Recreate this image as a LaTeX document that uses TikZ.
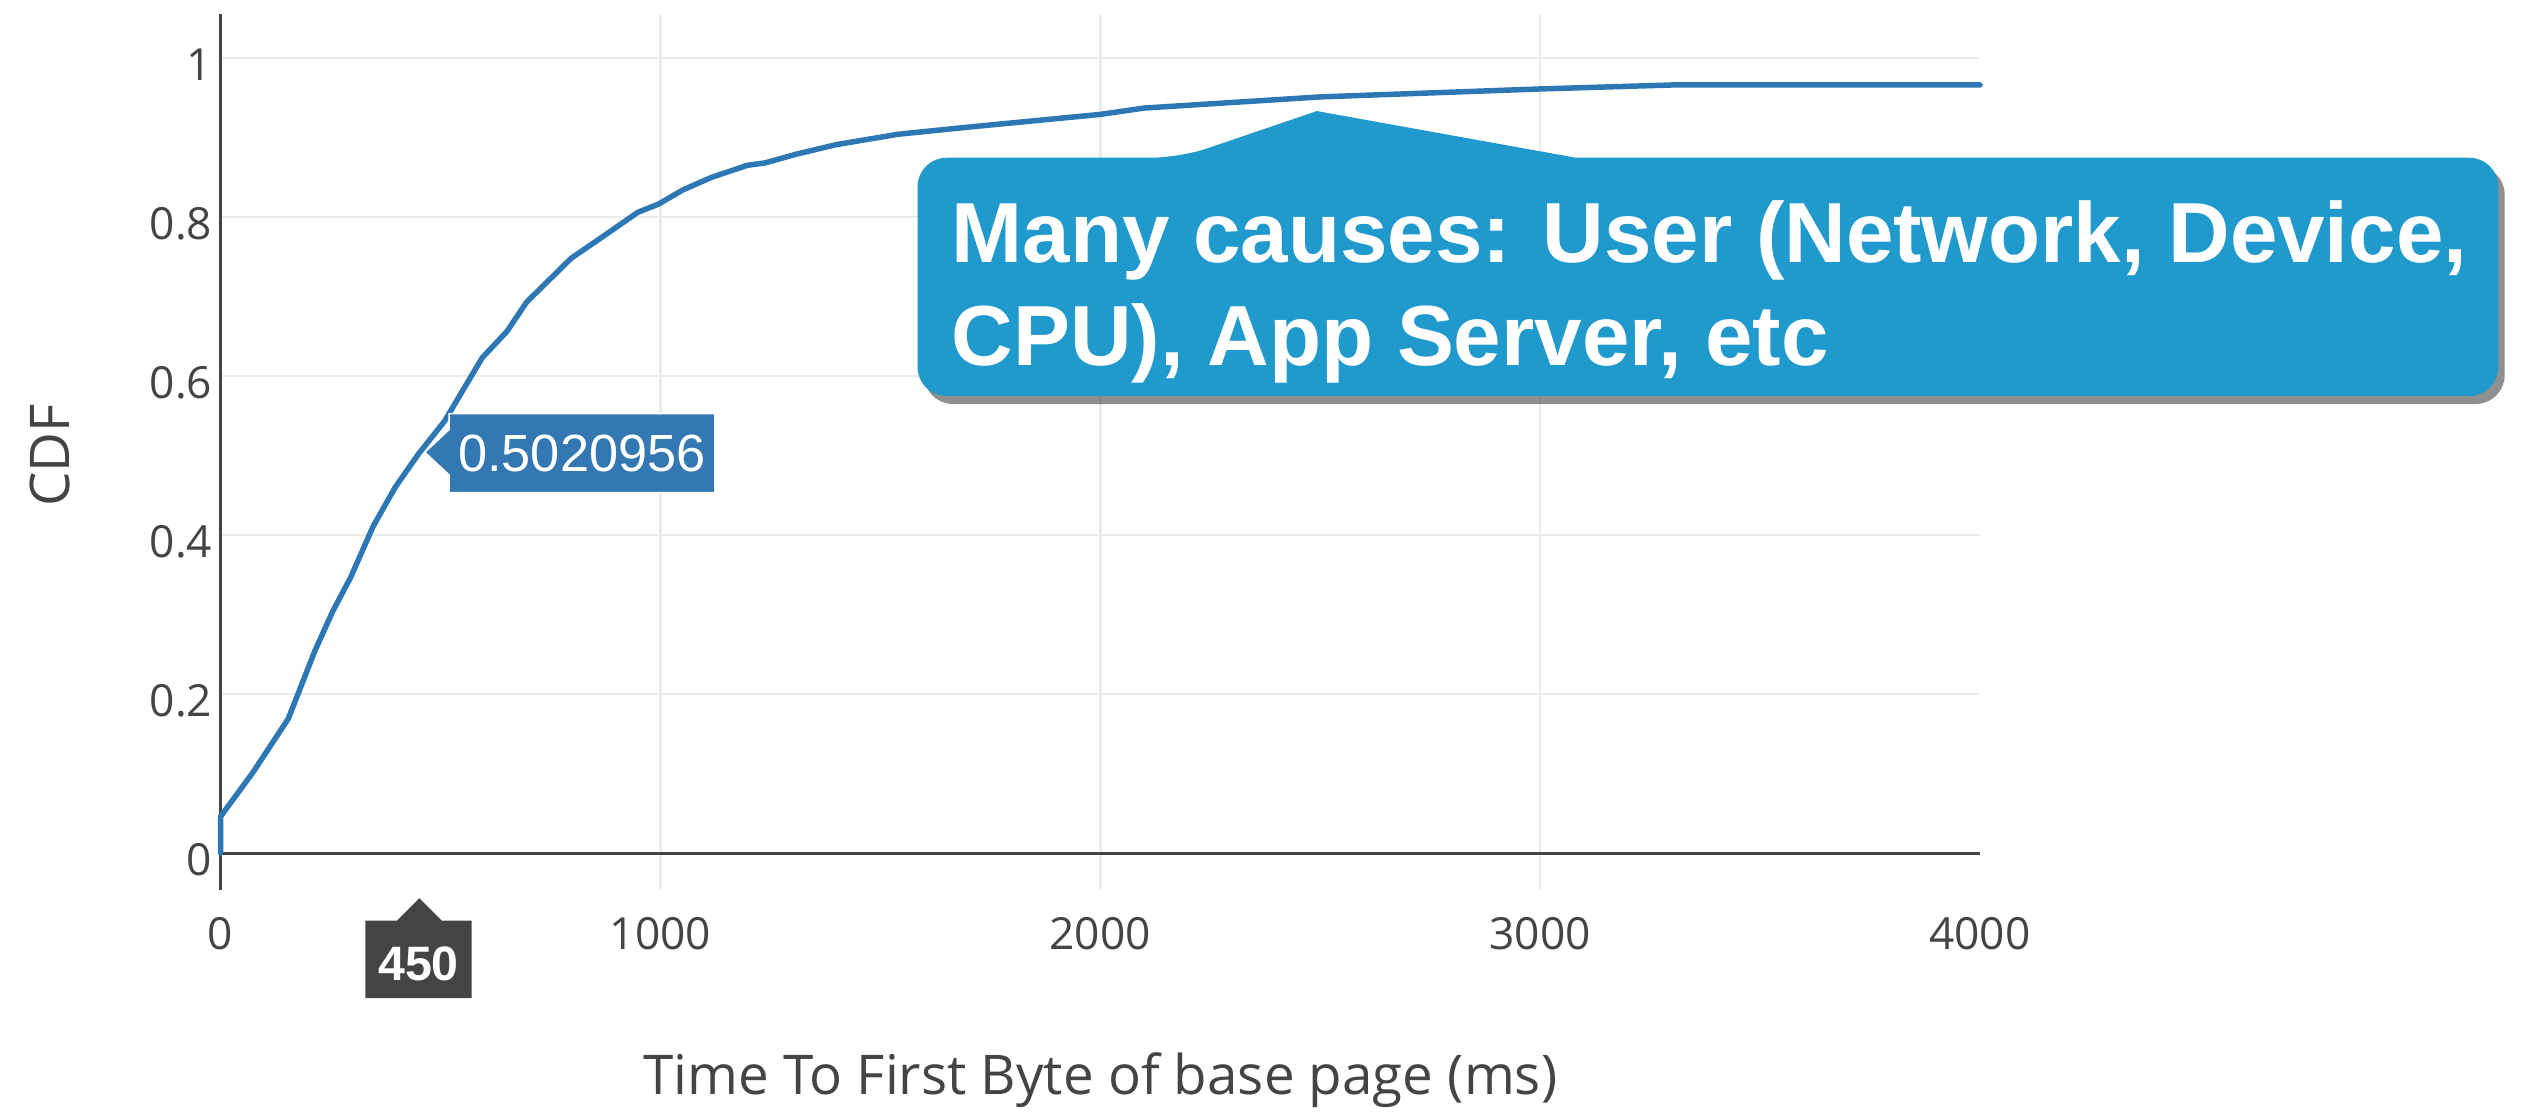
\documentclass[tikz,border=0pt]{standalone}
\usepackage{fontspec}
\setmainfont{Liberation Sans}
\newfontfamily\plotfont{Open Sans}
\newfontfamily\labelfont{Liberation Sans}
\usetikzlibrary{shadows}

\definecolor{axisgrey}{HTML}{444444}
\definecolor{gridgrey}{HTML}{EBEBEB}
\definecolor{tracecol}{RGB}{44,119,180}
\definecolor{hoverblue}{RGB}{51,120,178}
\definecolor{calloutblue}{RGB}{32,153,204}
\definecolor{spikegrey}{HTML}{444444}

\begin{document}
\begin{tikzpicture}[x=1pt,y=-1pt,
  gridline/.style={gridgrey, line width=1.6pt},
  axisline/.style={axisgrey, line width=2pt},
  ticklab/.style={font=\plotfont\fontsize{27.5}{30}\selectfont, text=axisgrey, inner sep=0pt},
  axistitle/.style={font=\plotfont\fontsize{34}{38}\selectfont, text=axisgrey, inner sep=0pt},
  trace/.style={tracecol, line width=3.4pt, line join=round, line cap=round},
  hoverbox/.style={fill=hoverblue, draw=white, line width=0.8pt, line join=miter},
  hovertext/.style={font=\labelfont\fontsize{32.5}{36}\selectfont, text=white, inner sep=0pt},
  spikebox/.style={fill=spikegrey},
  spiketext/.style={font=\labelfont\bfseries\fontsize{30}{34}\selectfont, text=white, inner sep=0pt},
  calloutbox/.style={fill=calloutblue,
    drop shadow={shadow xshift=4pt, shadow yshift=-5pt, opacity=0.55, fill=black!80}},
  callouttext/.style={font=\labelfont\bfseries\fontsize{53}{60}\selectfont, text=white, inner sep=0pt},
]

% page
\useasboundingbox (0,0) rectangle (1568,692);
\fill[white] (0,0) rectangle (1568,692);

% grid
\foreach \gy in {36,134.8,233.6,332.4,431.2}
  \draw[gridline] (137,\gy) -- (1230,\gy);
\foreach \gx in {410.25,683.5,956.75}
  \draw[gridline] (\gx,9) -- (\gx,553);

% axes
\draw[axisline] (137,530) -- (1230,530);
\draw[axisline] (137,9) -- (137,553);

% CDF trace (x in ms, y in probability)
\begin{scope}[shift={(137,530)}, x=0.27325pt, y=494pt]
  \draw[trace] (0,0) -- (0,0.046) -- (73,0.101) -- (154,0.169) -- (215,0.255)
    -- (255,0.304) -- (296,0.347) -- (347,0.411) -- (397,0.460) -- (450,0.502)
    -- (509,0.543) -- (595,0.623) -- (651,0.656) -- (696,0.693) -- (797,0.748)
    -- (863,0.773) -- (949,0.806) -- (995,0.816) -- (1051,0.834) -- (1117,0.850)
    -- (1198,0.865) -- (1238,0.868) -- (1309,0.879) -- (1400,0.891) -- (1540,0.904)
    -- (1700,0.913) -- (2000,0.929) -- (2100,0.937) -- (2500,0.951) -- (3000,0.961)
    -- (3300,0.966) -- (3700,0.966) -- (4000,0.966);
\end{scope}

% y tick labels
\node[ticklab, anchor=base east] (y100) at (132,50) {1};
\node[ticklab, anchor=base east] (y080) at (132,148.8) {0.8};
\node[ticklab, anchor=base east] (y060) at (132,247.6) {0.6};
\node[ticklab, anchor=base east] (y040) at (132,346.4) {0.4};
\node[ticklab, anchor=base east] (y020) at (132,445.2) {0.2};
\node[ticklab, anchor=base east] (y000) at (132,544) {0};

% x tick labels
\node[ticklab, anchor=base] (x0) at (137,590) {0};
\node[ticklab, anchor=base] (x1000) at (410.25,590) {1000};
\node[ticklab, anchor=base] (x2000) at (683.5,590) {2000};
\node[ticklab, anchor=base] (x3000) at (956.75,590) {3000};
\node[ticklab, anchor=base] (x4000) at (1230,590) {4000};

% axis titles
\node[axistitle, anchor=base] (xtitle) at (683.5,680) {Time To First Byte of base page (ms)};
\node[axistitle, anchor=base, rotate=90] (ytitle) at (43,283) {CDF};

% hover label on the trace
\coordinate (hoverpt) at (264,281);
\path[hoverbox] (hoverpt) -- (279,267) -- (279,257) -- (444,257) -- (444,306)
  -- (279,306) -- (279,295) -- cycle;
\node[hovertext, anchor=center] (hoverval) at (361.5,281.5) {0.5020956};

% x spike label
\coordinate (spiketip) at (260.5,558);
\path[spikebox] (227,572) -- (246.5,572) -- (spiketip) -- (274.5,572) -- (293,572)
  -- (293,620) -- (227,620) -- cycle;
\node[spiketext, anchor=base] (spikeval) at (260,609) {450};

% callout
\coordinate (callouttip) at (818,69);
\path[calloutbox] (570,172) [rounded corners=18pt] -- (570,98) -- (733,98)
  [sharp corners] -- (callouttip) -- (979,98)
  [rounded corners=18pt] -- (1552,98) -- (1552,246) -- (570,246) -- cycle;
\node[callouttext, anchor=base west] (callout1) at (591,163) {Many causes: User (Network, Device,};
\node[callouttext, anchor=base west] (callout2) at (591,227) {CPU), App Server, etc};

\end{tikzpicture}
\end{document}
